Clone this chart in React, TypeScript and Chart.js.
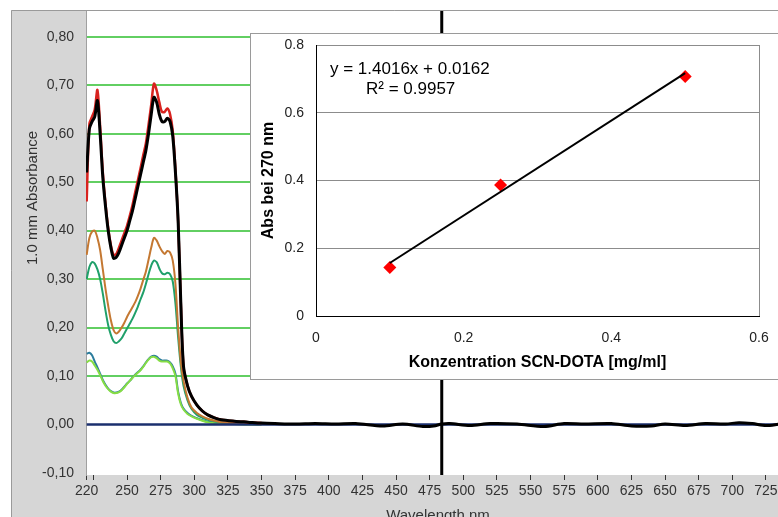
import React, { useEffect, useRef } from "react";
import { Chart, registerables } from "chart.js";

Chart.register(...registerables);

const FONT = "'Liberation Sans', Arial, sans-serif";

// ---------- Main spectrum data ----------
const wavelengths = [
  220, 222, 224, 226, 228, 230, 232, 234, 236, 238, 240, 242, 244, 246, 248, 250,
  252, 254, 256, 258, 260, 262, 264, 266, 268, 270, 272, 274, 276, 278, 280, 282,
  284, 286, 288, 290, 292, 295, 298, 302, 306, 310, 315, 320, 330, 340, 350,
];
const absBlack = [
  0.52, 0.61, 0.625, 0.635, 0.668, 0.6, 0.51, 0.45, 0.4, 0.365, 0.343, 0.345, 0.355, 0.37, 0.385, 0.4,
  0.42, 0.44, 0.465, 0.49, 0.515, 0.54, 0.565, 0.6, 0.64, 0.675, 0.665, 0.64, 0.625, 0.625, 0.632, 0.625,
  0.595, 0.52, 0.42, 0.25, 0.12, 0.08, 0.058, 0.04, 0.028, 0.02, 0.014, 0.01, 0.007, 0.005, 0.003,
];
const absRed = [
  0.46, 0.62, 0.635, 0.65, 0.69, 0.615, 0.52, 0.455, 0.405, 0.37, 0.35, 0.352, 0.365, 0.38, 0.395, 0.41,
  0.43, 0.452, 0.478, 0.503, 0.528, 0.555, 0.58, 0.618, 0.66, 0.703, 0.69, 0.665, 0.645, 0.645, 0.652, 0.64,
  0.605, 0.525, 0.42, 0.25, 0.12, 0.08, 0.058, 0.04, 0.028, 0.02, 0.014, 0.01, 0.007, 0.005, 0.003,
];
const absOrange = [
  0.35, 0.385, 0.398, 0.4, 0.385, 0.36, 0.32, 0.28, 0.245, 0.215, 0.195, 0.188, 0.192, 0.2, 0.21, 0.222,
  0.232, 0.242, 0.252, 0.265, 0.28, 0.298, 0.315, 0.34, 0.365, 0.385, 0.38, 0.368, 0.358, 0.352, 0.358, 0.355,
  0.338, 0.29, 0.2, 0.13, 0.09, 0.055, 0.035, 0.024, 0.017, 0.012, 0.008, 0.005, 0.003, 0.002, 0.001,
];
const absTeal = [
  0.3, 0.325, 0.335, 0.332, 0.32, 0.3, 0.27, 0.235, 0.205, 0.185, 0.172, 0.168, 0.172, 0.178, 0.188, 0.198,
  0.208, 0.218, 0.23, 0.243, 0.258, 0.272, 0.29, 0.31, 0.328, 0.338, 0.335, 0.322, 0.312, 0.31, 0.313, 0.31,
  0.295, 0.25, 0.18, 0.12, 0.08, 0.05, 0.032, 0.02, 0.014, 0.01, 0.007, 0.005, 0.003, 0.002, 0.001,
];
const absBlue = [
  0.146, 0.148, 0.143, 0.13, 0.118, 0.105, 0.092, 0.082, 0.074, 0.069, 0.066, 0.066, 0.068, 0.072, 0.078, 0.085,
  0.09, 0.097, 0.103, 0.108, 0.113, 0.12, 0.128, 0.135, 0.14, 0.142, 0.14, 0.135, 0.132, 0.132, 0.132, 0.128,
  0.12, 0.105, 0.068, 0.045, 0.033, 0.024, 0.018, 0.013, 0.009, 0.006, 0.004, 0.002, 0.001, 0.001, 0,
];
const absLightGreen = [
  0.128, 0.132, 0.13, 0.122, 0.113, 0.102, 0.09, 0.08, 0.073, 0.068, 0.065, 0.065, 0.067, 0.071, 0.077, 0.084,
  0.09, 0.096, 0.102, 0.107, 0.112, 0.119, 0.127, 0.134, 0.139, 0.14, 0.137, 0.132, 0.13, 0.13, 0.13, 0.126,
  0.116, 0.1, 0.064, 0.042, 0.031, 0.022, 0.017, 0.012, 0.008, 0.005, 0.003, 0.002, 0.001, 0, 0,
];
const tailWavelengths = [
  360, 375, 390, 405, 420, 440, 455, 470, 478, 484, 490, 505, 520, 540, 560, 575, 590, 610, 625, 640, 650,
  665, 680, 695, 705, 715, 725, 735,
];
const tailBlack = [
  0.002, 0.001, 0.002, 0.001, 0.002, -0.003, 0.001, -0.004, -0.003, 0.001, 0.002, -0.002, 0.002, 0.001,
  -0.004, 0.002, 0.001, 0.002, -0.003, -0.003, 0.001, -0.002, 0.002, 0.001, 0.004, 0.002, -0.002, 0.001,
];
const baselineWavelengths = [220, 735];
const baselineValues = [0, 0];
const cursorWavelength = 484;

const xMin = 219.5;
const xMax = 734;
const yMin = -0.104;
const yMax = 0.853;
const xTickValues = [220, 225, 250, 275, 300, 325, 350, 375, 400, 425, 450, 475, 500, 525, 550, 575, 600, 625, 650, 675, 700, 725];
const yTickValues = [-0.1, 0, 0.1, 0.2, 0.3, 0.4, 0.5, 0.6, 0.7, 0.8];

// ---------- Inset calibration data ----------
const concentrations = [0.1, 0.25, 0.5];
const absAt270 = [0.143, 0.387, 0.707];
const fitSlope = 1.4016;
const fitIntercept = 0.0162;
const fitRange = [0.1, 0.5];
const equationText = "y = 1.4016x + 0.0162";
const r2Text = "R\u00b2 = 0.9957";

const toXY = (xs: number[], ys: number[]) => xs.map((x, i) => ({ x, y: ys[i] }));

const noVPad = (s: any) => {
  s.paddingTop = 0;
  s.paddingBottom = 0;
};
const noHPad = (s: any) => {
  s.paddingLeft = 0;
  s.paddingRight = 0;
};

const framePlugin = {
  id: "frame",
  beforeDraw(chart: any) {
    const { ctx, chartArea: a, width, height } = chart;
    ctx.save();
    ctx.fillStyle = "#ffffff";
    ctx.fillRect(0, 0, width, height);
    const fx = a.left - 75;
    const fy = a.top - 1;
    ctx.fillStyle = "#d6d6d6";
    ctx.fillRect(fx, fy, width - fx, height - fy);
    ctx.strokeStyle = "#9a9a9a";
    ctx.lineWidth = 1;
    ctx.beginPath();
    ctx.moveTo(fx + 0.5, height);
    ctx.lineTo(fx + 0.5, fy + 0.5);
    ctx.lineTo(width, fy + 0.5);
    ctx.stroke();
    ctx.fillStyle = "#ffffff";
    ctx.fillRect(a.left, a.top, a.right - a.left, a.bottom - a.top);
    ctx.restore();
  },
  afterDatasetsDraw(chart: any) {
    const { ctx, chartArea: a, scales } = chart;
    const x = scales.x.getPixelForValue(cursorWavelength);
    ctx.save();
    ctx.strokeStyle = "#000000";
    ctx.lineWidth = 3;
    ctx.beginPath();
    ctx.moveTo(x, a.top);
    ctx.lineTo(x, a.bottom);
    ctx.stroke();
    ctx.restore();
  },
  afterDraw(chart: any) {
    const { ctx, chartArea: a } = chart;
    ctx.save();
    ctx.fillStyle = "#333333";
    ctx.font = `15px ${FONT}`;
    ctx.textAlign = "center";
    ctx.textBaseline = "middle";
    ctx.translate(a.left - 53, a.top + 187);
    ctx.rotate(-Math.PI / 2);
    ctx.fillText("1.0 mm Absorbance", 0, 0);
    ctx.restore();
    ctx.save();
    ctx.fillStyle = "#333333";
    ctx.font = `15px ${FONT}`;
    ctx.textAlign = "center";
    ctx.textBaseline = "middle";
    ctx.fillText("Wavelength nm", a.left + 352, a.bottom + 41);
    ctx.restore();
  },
};

const insetPlugin = {
  id: "insetDecor",
  beforeDatasetsDraw(chart: any) {
    const { ctx, chartArea: a } = chart;
    ctx.save();
    ctx.strokeStyle = "#8c8c8c";
    ctx.lineWidth = 1;
    ctx.beginPath();
    ctx.moveTo(Math.round(a.right) + 0.5, a.top);
    ctx.lineTo(Math.round(a.right) + 0.5, a.bottom);
    ctx.stroke();
    ctx.restore();
  },
  afterDraw(chart: any) {
    const { ctx, chartArea: a } = chart;
    ctx.save();
    ctx.fillStyle = "#000000";
    ctx.font = `17px ${FONT}`;
    ctx.textAlign = "left";
    ctx.textBaseline = "middle";
    ctx.fillText(equationText, a.left + 14, a.top + 24);
    ctx.fillText(r2Text, a.left + 50, a.top + 44);
    ctx.restore();
  },
};

export default function App() {
  const mainRef = useRef<HTMLCanvasElement>(null);
  const insetRef = useRef<HTMLCanvasElement>(null);

  useEffect(() => {
    if (!mainRef.current || !insetRef.current) return;

    const lineDs = (label: string, data: any[], color: string, width: number) => ({
      label,
      data,
      borderColor: color,
      backgroundColor: color,
      borderWidth: width,
      pointRadius: 0,
      fill: false,
      tension: 0.3,
    });

    const main = new Chart(mainRef.current, {
      type: "line",
      data: {
        datasets: [
          lineDs("black", [...toXY(wavelengths, absBlack), ...toXY(tailWavelengths, tailBlack)], "#000000", 3),
          lineDs("red", toXY(wavelengths, absRed), "#d8231f", 2.5),
          lineDs("baseline", toXY(baselineWavelengths, baselineValues), "#1b2f6e", 2.5),
          lineDs("orange", toXY(wavelengths, absOrange), "#c47832", 2),
          lineDs("teal", toXY(wavelengths, absTeal), "#20a06a", 2),
          lineDs("lightgreen", toXY(wavelengths, absLightGreen), "#86dd44", 2),
          lineDs("blue", toXY(wavelengths, absBlue), "#2a7c9c", 2),
        ],
      },
      options: {
        animation: false,
        responsive: false,
        devicePixelRatio: 1,
        layout: { padding: { left: 11, top: 11, right: 0, bottom: 0 } },
        plugins: { legend: { display: false }, tooltip: { enabled: false } },
        scales: {
          x: {
            type: "linear",
            min: xMin,
            max: xMax,
            afterBuildTicks: (s: any) => {
              s.ticks = xTickValues.map((v) => ({ value: v }));
            },
            afterFit: (s: any) => {
              s.height = 55;
              noHPad(s);
            },
            grid: { display: true, drawOnChartArea: false, drawTicks: true, tickLength: 5, color: "#333333", lineWidth: 1 },
            border: { display: false },
            ticks: {
              autoSkip: false,
              maxRotation: 0,
              minRotation: 0,
              padding: 3,
              color: "#333333",
              font: { family: FONT, size: 14 },
              callback: (v: any) => (v === 225 ? "" : String(v)),
            },
          },
          y: {
            type: "linear",
            min: yMin,
            max: yMax,
            afterBuildTicks: (s: any) => {
              s.ticks = yTickValues.map((v) => ({ value: v }));
            },
            afterFit: (s: any) => {
              s.width = 75;
              noVPad(s);
            },
            grid: {
              drawTicks: false,
              lineWidth: 2,
              color: (ctx: any) => (ctx.tick && ctx.tick.value > 0.05 ? "#62cf62" : "rgba(0,0,0,0)"),
            },
            border: { display: true, color: "#a0a0a0", width: 1 },
            ticks: {
              padding: 12,
              color: "#333333",
              font: { family: FONT, size: 14 },
              callback: (v: any) => Number(v).toFixed(2).replace(".", ","),
            },
          },
        },
      },
      plugins: [framePlugin],
    } as any);

    const inset = new Chart(insetRef.current, {
      type: "scatter",
      data: {
        datasets: [
          {
            label: "fit",
            data: fitRange.map((x) => ({ x, y: fitSlope * x + fitIntercept })),
            showLine: true,
            borderColor: "#000000",
            borderWidth: 2,
            pointRadius: 0,
          },
          {
            label: "points",
            data: toXY(concentrations, absAt270),
            pointStyle: "rectRot",
            pointRadius: 6.5,
            backgroundColor: "#ff0000",
            borderColor: "#ff0000",
            borderWidth: 0,
          },
        ],
      },
      options: {
        animation: false,
        responsive: false,
        devicePixelRatio: 1,
        layout: { padding: { left: 0, top: 11, right: 32, bottom: 0 } },
        plugins: { legend: { display: false }, tooltip: { enabled: false } },
        scales: {
          x: {
            type: "linear",
            min: 0,
            max: 0.6,
            afterFit: (s: any) => {
              s.height = 63;
              noHPad(s);
            },
            grid: { display: true, drawOnChartArea: false, drawTicks: false },
            border: { display: true, color: "#000000", width: 1 },
            ticks: {
              stepSize: 0.2,
              padding: 14,
              color: "#222222",
              font: { family: FONT, size: 14 },
              callback: (v: any) => (Number(v) === 0 ? "0" : Number(v).toFixed(1)),
            },
            title: {
              display: true,
              text: "Konzentration SCN-DOTA [mg/ml]",
              color: "#000000",
              font: { family: FONT, size: 16, weight: "bold" },
              padding: { top: 0, bottom: 7 },
            },
          },
          y: {
            type: "linear",
            min: 0,
            max: 0.8,
            afterFit: (s: any) => {
              s.width = 65;
              noVPad(s);
            },
            grid: {
              drawTicks: false,
              lineWidth: 1,
              color: (ctx: any) => (ctx.tick && ctx.tick.value > 0.01 ? "#8c8c8c" : "rgba(0,0,0,0)"),
            },
            border: { display: true, color: "#000000", width: 1 },
            ticks: {
              stepSize: 0.2,
              padding: 12,
              color: "#222222",
              font: { family: FONT, size: 14 },
              callback: (v: any) => (Number(v) === 0 ? "0" : Number(v).toFixed(1)),
            },
            title: {
              display: true,
              text: "Abs bei 270 nm",
              color: "#000000",
              font: { family: FONT, size: 16, weight: "bold" },
              padding: { top: 8, bottom: 0 },
            },
          },
        },
      },
      plugins: [insetPlugin],
    } as any);

    return () => {
      main.destroy();
      inset.destroy();
    };
  }, []);

  return (
    <div
      style={{
        position: "absolute",
        left: 0,
        top: 0,
        width: 778,
        height: 517,
        overflow: "hidden",
        background: "#ffffff",
      }}
    >
      <canvas ref={mainRef} width={778} height={530} style={{ position: "absolute", left: 0, top: 0, width: 778, height: 530 }} />
      <div
        style={{
          position: "absolute",
          left: 250,
          top: 33,
          width: 560,
          height: 345,
          border: "1px solid #9a9a9a",
          background: "#ffffff",
        }}
      >
        <canvas ref={insetRef} width={540} height={345} style={{ position: "absolute", left: 0, top: 0, width: 540, height: 345 }} />
      </div>
    </div>
  );
}
